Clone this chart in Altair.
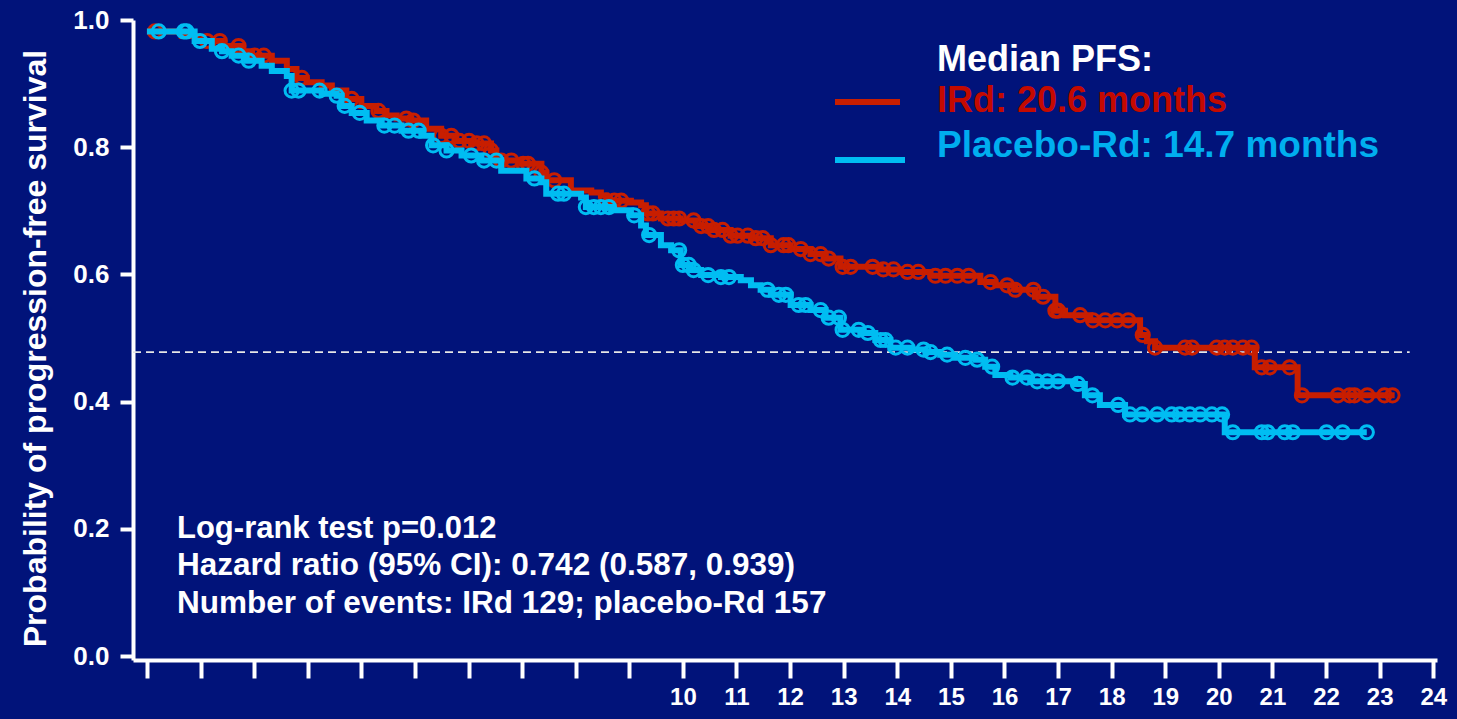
import altair as alt
import numpy as np
import pandas as pd

# ---------------- data ----------------
ird_t = [0, 0.65, 0.93, 1.40, 1.77, 1.96, 2.33, 2.61, 2.79, 2.98, 3.26, 3.45, 3.72, 4.00, 4.28,
         4.47, 4.66, 4.93, 5.21, 5.49, 5.77, 6.05, 6.42, 6.52, 6.98, 7.36, 7.45, 7.91, 8.29, 8.47,
         8.57, 9.03, 9.22, 9.31, 9.59, 9.96, 10.24, 10.52, 10.89, 11.27, 11.64, 12.01, 12.38, 12.66,
         12.94, 13.69, 14.06, 14.62, 15.55, 15.83, 16.20, 16.57, 16.95, 17.13, 17.60, 18.53, 18.66,
         18.81, 20.67, 21.47, 23.28]
ird_s = [0.982, 0.975, 0.967, 0.959, 0.951, 0.944, 0.936, 0.923, 0.909, 0.902, 0.897, 0.889, 0.876,
         0.865, 0.857, 0.850, 0.845, 0.842, 0.829, 0.818, 0.810, 0.806, 0.795, 0.779, 0.774, 0.760,
         0.748, 0.732, 0.729, 0.724, 0.716, 0.713, 0.709, 0.696, 0.688, 0.685, 0.676, 0.670, 0.661,
         0.657, 0.646, 0.640, 0.632, 0.625, 0.612, 0.608, 0.604, 0.598, 0.588, 0.583, 0.576, 0.565,
         0.543, 0.536, 0.528, 0.505, 0.495, 0.485, 0.454, 0.410, 0.410]

pbo_t = [0, 0.89, 1.21, 1.40, 1.58, 1.86, 2.14, 2.33, 2.61, 2.70, 3.26, 3.54, 3.63, 3.82, 4.10,
         4.38, 4.75, 5.12, 5.31, 5.59, 5.87, 6.24, 6.61, 7.08, 7.36, 7.45, 8.10, 8.19, 8.66, 9.03,
         9.22, 9.31, 9.59, 9.78, 9.96, 10.15, 10.34, 10.71, 11.08, 11.27, 11.45, 11.64, 12.01, 12.38,
         12.66, 12.94, 13.31, 13.59, 13.87, 14.25, 14.53, 14.80, 15.08, 15.46, 15.64, 15.83, 16.11,
         16.48, 17.32, 17.50, 17.78, 18.25, 20.11, 22.76]
pbo_s = [0.982, 0.967, 0.955, 0.951, 0.944, 0.936, 0.928, 0.920, 0.912, 0.889, 0.884, 0.881, 0.865,
         0.854, 0.842, 0.834, 0.826, 0.818, 0.803, 0.795, 0.787, 0.779, 0.763, 0.751, 0.745, 0.727,
         0.721, 0.706, 0.701, 0.693, 0.677, 0.662, 0.646, 0.638, 0.615, 0.607, 0.599, 0.596, 0.591,
         0.583, 0.576, 0.568, 0.552, 0.544, 0.532, 0.513, 0.508, 0.497, 0.485, 0.482, 0.478, 0.474,
         0.469, 0.466, 0.455, 0.442, 0.438, 0.432, 0.428, 0.410, 0.395, 0.380, 0.352, 0.352]

ird_censor = [0.15, 1.12, 1.36, 1.71, 2.01, 2.18, 2.89, 3.82, 4.32, 4.84, 4.97, 5.49, 5.68, 5.83,
              6.01, 6.15, 6.29, 6.42, 6.61, 6.80, 7.02, 7.11, 7.36, 7.60, 8.57, 8.72, 8.85, 9.35,
              9.44, 9.72, 9.83, 9.93, 10.20, 10.34, 10.47, 10.58, 10.74, 10.89, 11.02, 11.21, 11.36,
              11.49, 11.64, 11.88, 11.97, 12.20, 12.38, 12.57, 12.72, 12.98, 13.13, 13.54, 13.74,
              13.93, 14.19, 14.39, 14.71, 14.90, 15.12, 15.33, 15.74, 16.05, 16.20, 16.54, 16.72,
              16.95, 17.00, 17.41, 17.65, 17.88, 18.10, 18.31, 18.58, 18.81, 19.37, 19.50, 19.96,
              20.11, 20.26, 20.45, 20.61, 20.80, 20.95, 21.32, 21.55, 22.22, 22.44, 22.53, 22.77,
              23.09, 23.24]
pbo_censor = [0.22, 0.69, 0.74, 0.99, 1.40, 1.71, 1.90, 2.70, 2.83, 3.22, 3.54, 3.69, 3.97, 4.43,
              4.62, 4.88, 5.07, 5.34, 5.59, 6.05, 6.29, 6.52, 7.23, 7.67, 7.78, 8.19, 8.34, 8.47,
              8.62, 9.09, 9.37, 9.93, 10.00, 10.11, 10.20, 10.47, 10.71, 10.86, 11.58, 11.79, 11.92,
              12.16, 12.29, 12.57, 12.72, 12.91, 12.98, 13.28, 13.45, 13.69, 13.78, 13.97, 14.19,
              14.49, 14.62, 14.93, 15.27, 15.49, 15.77, 16.15, 16.42, 16.61, 16.80, 17.00, 17.37,
              17.64, 18.12, 18.34, 18.57, 18.85, 19.12, 19.27, 19.46, 19.65, 19.87, 20.06, 20.26,
              20.80, 20.91, 21.23, 21.38, 22.01, 22.31, 22.76]

ref_level = 0.478
ref_span = [-0.26, 23.56]

x_ticks = list(range(0, 25))
y_ticks = [0.0, 0.2, 0.4, 0.6, 0.8, 1.0]

y_title = "Probability of progression-free survival"
legend_head = "Median PFS:"
legend_ird = "IRd: 20.6 months"
legend_pbo = "Placebo-Rd: 14.7 months"
stats_lines = ["Log-rank test p=0.012",
               "Hazard ratio (95% CI): 0.742 (0.587, 0.939)",
               "Number of events: IRd 129; placebo-Rd 157"]

# ---------------- styling ----------------
BG = "#01137a"
RED = "#c81e00"
RED_TXT = "#c40a00"
CYAN = "#00bdf2"
CYAN_TXT = "#00aeef"
FONT = "Liberation Sans"

def censor_frame(times, t_steps, s_steps):
    t_arr = np.asarray(t_steps)
    s_arr = np.asarray(s_steps)
    idx = np.searchsorted(t_arr, np.asarray(times), side="right") - 1
    return pd.DataFrame({"t": times, "s": s_arr[idx]})

ird_df = pd.DataFrame({"t": ird_t, "s": ird_s})
pbo_df = pd.DataFrame({"t": pbo_t, "s": pbo_s})
ird_c = censor_frame(ird_censor, ird_t, ird_s)
pbo_c = censor_frame(pbo_censor, pbo_t, pbo_s)

xscale = alt.Scale(domain=[-0.26, 24.07], nice=False, zero=False)
yscale = alt.Scale(domain=[-0.006, 1.0], nice=False, zero=False)

xaxis = alt.Axis(values=x_ticks, labelExpr="datum.value >= 10 ? datum.label : ''", title=None,
                 grid=False, domainColor="white", domainWidth=4, tickColor="white", tickWidth=4,
                 tickSize=18, labelColor="white", labelFont=FONT, labelFontSize=24,
                 labelFontWeight="bold", labelPadding=7, labelFlush=False)
yaxis = alt.Axis(values=y_ticks, format=".1f", title=y_title, grid=False, domainColor="white",
                 domainWidth=4, tickColor="white", tickWidth=4, tickSize=13, labelColor="white",
                 labelFont=FONT, labelFontSize=26, labelFontWeight="bold", labelPadding=11,
                 titleColor="white", titleFont=FONT, titleFontSize=32, titleFontWeight="bold",
                 titlePadding=20, titleY=328)

X = lambda: alt.X("t:Q", scale=xscale, axis=xaxis)
Y = lambda: alt.Y("s:Q", scale=yscale, axis=yaxis)

ref_df = pd.DataFrame({"t": [ref_span[0]], "t2": [ref_span[1]], "s": [ref_level]})
ref = alt.Chart(ref_df).mark_rule(color="#e6e6e6", strokeWidth=1.6, strokeDash=[8, 5]).encode(
    x=X(), x2="t2:Q", y=Y())

ird_line = alt.Chart(ird_df).mark_line(color=RED, strokeWidth=6, interpolate="step-after").encode(x=X(), y=Y())
ird_pts = alt.Chart(ird_c).mark_point(shape="circle", filled=False, color=RED, size=175, strokeWidth=3, opacity=1).encode(x=X(), y=Y())
pbo_line = alt.Chart(pbo_df).mark_line(color=CYAN, strokeWidth=6, interpolate="step-after").encode(x=X(), y=Y())
pbo_pts = alt.Chart(pbo_c).mark_point(shape="circle", filled=False, color=CYAN, size=175, strokeWidth=3, opacity=1).encode(x=X(), y=Y())

one = pd.DataFrame({"k": [0]})

def text_layer(txt, px, py, color, size):
    return alt.Chart(one).mark_text(text=txt, align="left", baseline="middle", font=FONT,
                                    fontWeight="bold", fontSize=size, color=color).encode(
        x=alt.value(px), y=alt.value(py))

def seg(x1, x2, y, color):
    return alt.Chart(one).mark_rule(color=color, strokeWidth=6).encode(
        x=alt.value(x1), x2=alt.value(x2), y=alt.value(y))

texts = [
    text_layer(legend_head, 804, 40, "white", 36),
    text_layer(legend_ird, 804, 81, RED_TXT, 36),
    text_layer(legend_pbo, 804, 126, CYAN_TXT, 37),
    text_layer(stats_lines[0], 44, 509, "white", 31),
    text_layer(stats_lines[1], 44, 546, "white", 31.5),
    text_layer(stats_lines[2], 44, 584, "white", 31.5),
]

chart = alt.layer(
    ref, ird_line, ird_pts, pbo_line, pbo_pts,
    seg(702, 767, 82, RED), seg(702, 772, 140, CYAN),
    *texts
).properties(
    width=1304, height=640, background=BG,
    padding={"left": 133, "top": 20, "right": 20, "bottom": 59},
    autosize=alt.AutoSizeParams(type="none"),
).configure_view(stroke=None)

chart.save("out.html", embed_options={"renderer": "svg", "actions": False})
